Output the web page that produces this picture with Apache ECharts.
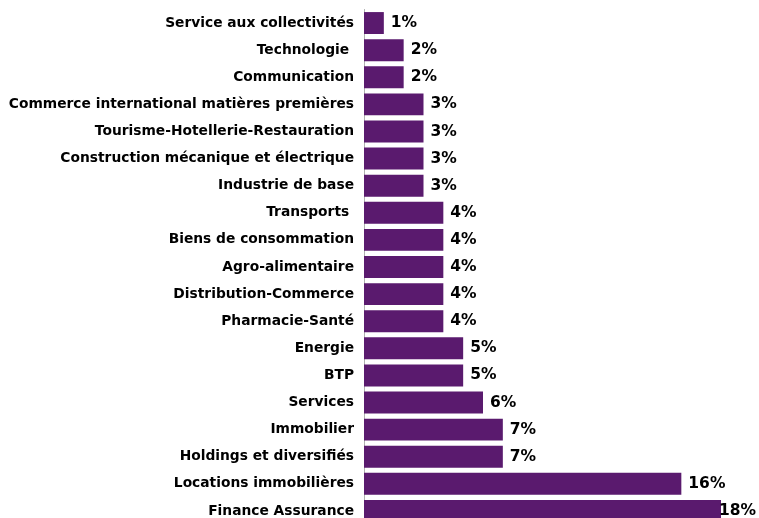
<!DOCTYPE html>
<html><head><meta charset="utf-8">
<script src="https://cdn.jsdelivr.net/npm/echarts@6/dist/echarts.min.js"></script>
<style>html,body{margin:0;padding:0;background:#fff}#c{width:759px;height:518px}</style>
</head><body><div id="c"></div>
<script>
const categories = ["Service aux collectivités","Technologie ","Communication","Commerce international matières premières","Tourisme-Hotellerie-Restauration","Construction mécanique et électrique","Industrie de base","Transports ","Biens de consommation","Agro-alimentaire","Distribution-Commerce","Pharmacie-Santé","Energie","BTP","Services","Immobilier","Holdings et diversifiés","Locations immobilières","Finance Assurance"];
const values = [1,2,2,3,3,3,3,4,4,4,4,4,5,5,6,7,7,16,18];
const chart = echarts.init(document.getElementById('c'));
const data = values.map((v, i) => i === values.length - 1
  ? {value: v, label: {distance: 0, offset: [-2, 0]}}
  : v);
chart.setOption({
  animation:false,
  grid:{left:364, top:9.5, width:357, height:515, containLabel:false, outerBoundsMode:'none'},
  xAxis:{type:'value', min:0, max:18, show:false},
  yAxis:{type:'category', data:categories, inverse:true,
    axisLine:{show:true, lineStyle:{color:'#b0b0b0', width:1}},
    axisTick:{show:false},
    axisLabel:{margin:10, color:'#000', fontFamily:'DejaVu Sans', fontWeight:'bold', fontSize:13.8}},
  series:[{type:'bar', data:data, barCategoryGap:'19%',
    itemStyle:{color:'#5a1a6e'},
    label:{show:true, position:'right', distance:7, formatter:'{c}%', color:'#000', fontFamily:'DejaVu Sans', fontWeight:'bold', fontSize:15.5}}]
});
</script></body></html>
